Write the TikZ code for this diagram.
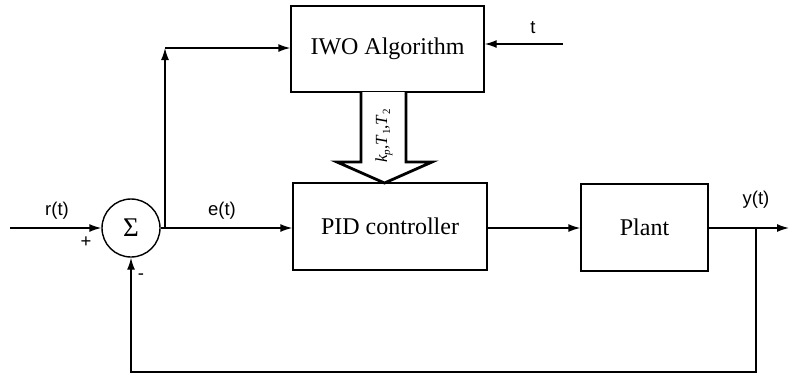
\documentclass[tikz,border=0pt]{standalone}
\usepackage{fontspec}
\setmainfont{Liberation Serif}
\newfontfamily\arial{Liberation Sans}
\usetikzlibrary{arrows.meta}
\newcommand{\sbs}[1]{\raisebox{-3pt}{\fontsize{11}{11}\selectfont #1}}
\begin{document}
\begin{tikzpicture}[x=1pt,y=-1pt,
  line width=1.4pt,
  arr/.style={-{Latex[length=12pt,width=8pt]}},
  blk/.style={draw,line width=1.4pt,inner sep=0pt,font=\fontsize{24}{28}\selectfont},
  lbl/.style={font=\arial\fontsize{18.5}{22}\selectfont},
]
\useasboundingbox (0,0) rectangle (789,376);
% blocks
\node[blk,minimum width=193pt,minimum height=86pt] (iwo) at (387.5,49) {IWO Algorithm};
\node[blk,minimum width=194pt,minimum height=87pt] (pid) at (390,226.5) {PID controller};
\node[blk,minimum width=127pt,minimum height=87pt] (plant) at (644.5,227.5) {Plant};
\node[draw,circle,line width=1.4pt,minimum size=58pt,inner sep=0pt,font=\fontsize{27}{28}\selectfont] (sum) at (131,228) {Σ};
% coordinates
\coordinate (in) at (10,228);
\coordinate (br) at (165,228);
\coordinate (up) at (165,48);
\coordinate (tin) at (563,44);
\coordinate (yb) at (756,228);
\coordinate (out) at (789,228);
\coordinate (fb1) at (756,372);
\coordinate (fb2) at (131,372);
% connectors
\draw[arr] (in) -- (sum.west);
\draw (sum.east) -- (br);
\draw[arr] (br) -- (pid.west |- br);
\draw[arr] (br) -- (up);
\draw[arr] (up) -- (iwo.west |- up);
\draw[arr] (tin) -- (iwo.east |- tin);
\draw[arr] (pid.east |- br) -- (plant.west |- br);
\draw (plant.east |- yb) -- (yb);
\draw[arr] (yb) -- (out);
\draw[arr] (yb) -- (fb1) -- (fb2) -- (sum.south);
% fat arrow
\draw[line width=2.8pt,fill=white,line join=miter]
  (361,92) -- (361,162) -- (337,162) -- (384.5,183) -- (432,162) -- (406,162) -- (406,92);
\node[rotate=90,inner sep=0pt,font=\fontsize{17}{20}\selectfont] (par) at (384,136) {\textit{k}\sbs{\textit{p}},\textit{T}\sbs{1},\textit{T}\sbs{2}};
% labels
\node[lbl] (lr) at (57,211) {r(t)};
\node[lbl] (le) at (222,211) {e(t)};
\node[lbl] (ly) at (756,200) {y(t)};
\node[lbl] (lt) at (533,28) {t};
\node[lbl] (lp) at (86,242) {+};
\node[lbl] (lm) at (141,277) {-};
\end{tikzpicture}
\end{document}
